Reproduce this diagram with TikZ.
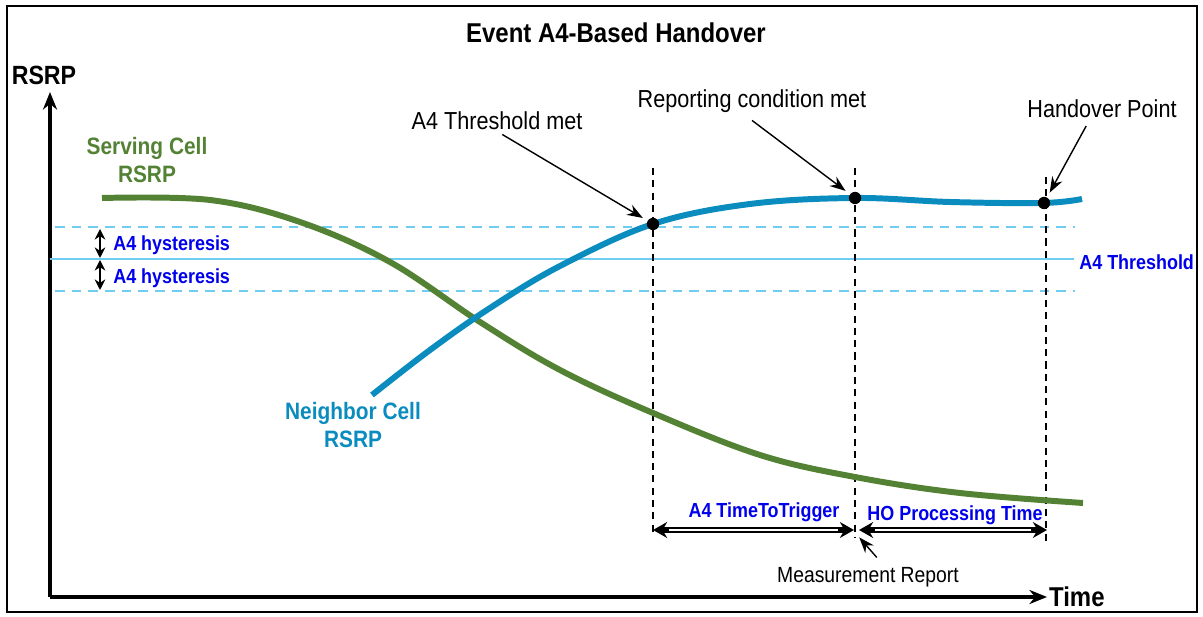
\documentclass[tikz,border=0pt]{standalone}
\usepackage{fontspec}
\setmainfont{Liberation Sans}[FakeStretch=0.88]
\usetikzlibrary{arrows.meta}
\definecolor{servgreen}{RGB}{84,130,53}
\definecolor{neighblue}{RGB}{10,140,190}
\definecolor{thrblue}{RGB}{110,205,240}
\definecolor{lblblue}{RGB}{0,0,235}
\tikzset{>=Stealth,
  curve/.style={line width=3.4pt,smooth,tension=0.6},
  thrline/.style={thrblue,line width=1.5pt},
  hystline/.style={thrblue,line width=1.7pt,dash pattern=on 5.5pt off 4pt},
  timeline/.style={black,line width=0.8pt,dash pattern=on 4pt off 3pt},
  axis/.style={line width=2pt,-{Stealth[length=10pt,width=8pt]}},
  callout/.style={line width=0.8pt,-{Stealth[length=9pt,width=6.5pt]},shorten >=3pt},
  dimarrow/.style={line width=3pt,{Stealth[length=8pt,width=9pt]}-{Stealth[length=8pt,width=9pt]}},
  diminner/.style={white,line width=0.8pt,shorten >=9pt,shorten <=9pt},
  hystarrow/.style={line width=1.4pt,{Stealth[length=6pt,width=6pt]}-{Stealth[length=6pt,width=6pt]}},
  dot/.style={circle,fill=black,inner sep=0pt,minimum size=7pt},
  note/.style={font=\fontsize{14}{16}\selectfont},
  bluelbl/.style={lblblue,font=\bfseries\fontsize{11.6}{13}\selectfont},
}

\begin{document}
\begin{tikzpicture}[x=0.02cm,y=-0.02cm]
    \useasboundingbox (0,0) rectangle (1203,617);
    \draw[line width=1.1pt] (7,6) rectangle (1197,612);

    \node (title) at (616,33) {\bfseries\fontsize{15.5}{17}\selectfont Event A4-Based Handover};

    % axes
    \coordinate (O) at (50,597);
    \coordinate (Ytop) at (50,92);
    \coordinate (Xend) at (1047,597);
    \draw[axis] (O) -- (Ytop);
    \draw[axis] (O) -- (Xend);
    \node (ylabel) at (44,75) {\bfseries\fontsize{15}{18}\selectfont RSRP};
    \node[anchor=west,inner sep=1pt] (xlabel) at (Xend) {\bfseries\fontsize{15.5}{18}\selectfont Time};

    % threshold and hysteresis
    \coordinate (thrL) at (50,259);
    \coordinate (thrR) at (1074,259);
    \draw[thrline] (thrL) -- (thrR);
    \draw[hystline] (55,227) -- (1075,227);
    \draw[hystline] (55,291) -- (1075,291);
    \node[bluelbl,anchor=west,inner sep=0pt] (thrlbl) at (1079,262) {A4 Threshold};

    \coordinate (hupT) at (100,229);
    \coordinate (hupB) at (100,258);
    \coordinate (hdnT) at (100,260);
    \coordinate (hdnB) at (100,290);
    \draw[hystarrow] (hupT) -- (hupB);
    \draw[hystarrow] (hdnT) -- (hdnB);
    \node[bluelbl,anchor=west,inner sep=0pt] (hyst1) at (113,245) {A4 hysteresis};
    \node[bluelbl,anchor=west,inner sep=0pt] (hyst2) at (113,278) {A4 hysteresis};

    % time markers
    \draw[timeline] (653,168) -- (653,535);
    \draw[timeline] (855,168) -- (855,538);
    \draw[timeline] (1046,177) -- (1046,543);

    % serving cell
    \draw[curve,servgreen] plot coordinates {(102,198) (210,200) (300,222) (390,262) (480,322)
      (560,370) (653,413) (760,455) (855,477) (960,493) (1083,503)};
    \node[servgreen,align=center,font=\bfseries\fontsize{13.5}{16}\selectfont] (servlbl) at (147,160) {Serving Cell\\RSRP};

    % neighbor cell
    \draw[curve,neighblue] plot coordinates {(372,395) (430,350) (490,308) (560,266) (653,224)
      (750,204) (855,198) (950,202) (1043,203) (1082,199)};
    \node[neighblue,align=center,font=\bfseries\fontsize{13.5}{16}\selectfont] (neighlbl) at (353,425) {Neighbor Cell\\RSRP};

    % events
    \node[dot] (thrmet) at (653,224) {};
    \node[dot] (repmet) at (855,198) {};
    \node[dot] (hopt) at (1044,203) {};

    \node[note] (thrtxt) at (497,121) {A4 Threshold met};
    \node[note] (reptxt) at (752,101) {Reporting condition met};
    \node[note] (hotxt) at (1102,109) {Handover Point};
    \draw[callout] ([xshift=3pt,yshift=1pt]thrtxt.south) -- (thrmet);
    \draw[callout] ([yshift=-1pt]reptxt.south) -- (repmet);
    \draw[callout] ([xshift=-9pt,yshift=-1pt]hotxt.south) -- (hopt);

    % durations
    \coordinate (tttL) at (653,530);
    \coordinate (tttR) at (854,530);
    \coordinate (hoL) at (859,530);
    \coordinate (hoR) at (1047,530);
    \draw[dimarrow] (tttL) -- (tttR);
    \draw[diminner] (tttL) -- (tttR);
    \draw[dimarrow] (hoL) -- (hoR);
    \draw[diminner] (hoL) -- (hoR);
    \node[bluelbl] (tttlbl) at (764,512) {A4 TimeToTrigger};
    \node[bluelbl] (holbl) at (955,515) {HO Processing Time};

    \node[note,font=\fontsize{12.5}{14}\selectfont] (measrep) at (868,577) {Measurement Report};
    \draw[callout,shorten >=1pt] ([xshift=5pt,yshift=2pt]measrep.north) -- (858,536);
\end{tikzpicture}
\end{document}
